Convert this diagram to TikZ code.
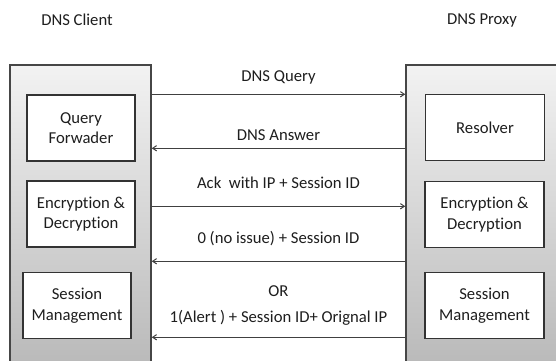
\documentclass[tikz,border=0pt]{standalone}
\usepackage{fontspec}
\setmainfont{Carlito}[Ligatures=NoCommon]
\usepackage{tikz}
\usetikzlibrary{arrows.meta, positioning, calc}
\definecolor{labeltext}{RGB}{30,30,30}
\definecolor{panelline}{RGB}{70,70,70}

\begin{document}
\begin{tikzpicture}[
    x=0.75pt, y=-0.75pt,
    panel/.style={rectangle, draw=panelline, line width=1.1pt, top color=black!5, bottom color=black!28, minimum width=105.75pt, minimum height=232.5pt},
    module/.style={rectangle, draw=black!80, line width=0.8pt, fill=white, align=center, minimum height=49.5pt, font=\fontsize{12.5}{15.5}\selectfont, text=labeltext},
    header/.style={font=\fontsize{12.5}{15}\selectfont, text=labeltext},
    msg/.style={-{Straight Barb[length=3pt,width=4pt]}, draw=black!75, line width=0.75pt},
    msglabel/.style={font=\fontsize{12.5}{15}\selectfont, text=labeltext, inner sep=1pt}
]
\clip (0,0) rectangle (556,360);
\fill[white] (0,0) rectangle (556,360);

% the two parties
\node[header] (clienttitle) at (77,20) {DNS Client};
\node[header] (proxytitle) at (482,20) {DNS Proxy};

\node[panel] (client) at (80.5,220) {};
\node[panel,minimum width=123pt] (proxy) at (488,220) {};

% modules on each side
\node[module,minimum width=81pt] (forwarder) at (81,128) {Query\\Forwader};
\node[module,minimum width=81pt] (clientcrypt) at (81,214) {Encryption \&\\Decryption};
\node[module,minimum width=81pt] (clientsession) at (77,305.5) {Session\\Management};

\node[module,minimum width=89.25pt] (resolver) at (485,127.5) {Resolver};
\node[module,minimum width=89.25pt] (proxycrypt) at (484.5,214.5) {Encryption \&\\Decryption};
\node[module,minimum width=89.25pt] (proxysession) at (484.5,305.5) {Session\\Management};

% messages between client and proxy
\draw[msg] ($(client.north east)+(0,30)$) --
    node[msglabel,yshift=12.5pt] {DNS Query} ($(proxy.north west)+(0,30)$);
\draw[msg] ($(proxy.north west)+(0,84)$) --
    node[msglabel,yshift=10pt] {DNS Answer} ($(client.north east)+(0,84)$);
\draw[msg] ($(client.north east)+(0,142)$) --
    node[msglabel,yshift=17.25pt] {Ack \ with IP + Session ID} ($(proxy.north west)+(0,142)$);
\draw[msg] ($(proxy.north west)+(0,197)$) --
    node[msglabel,yshift=16.75pt] {0 (no issue) + Session ID} ($(client.north east)+(0,197)$);
\draw[msg] ($(proxy.north west)+(0,273)$) --
    node[msglabel,yshift=14.5pt] (alertlabel) {1(Alert ) + Session ID+ Orignal IP} ($(client.north east)+(0,273)$);
\node[msglabel] (orlabel) at ([yshift=20.25pt]alertlabel.center) {OR};
\end{tikzpicture}
\end{document}
